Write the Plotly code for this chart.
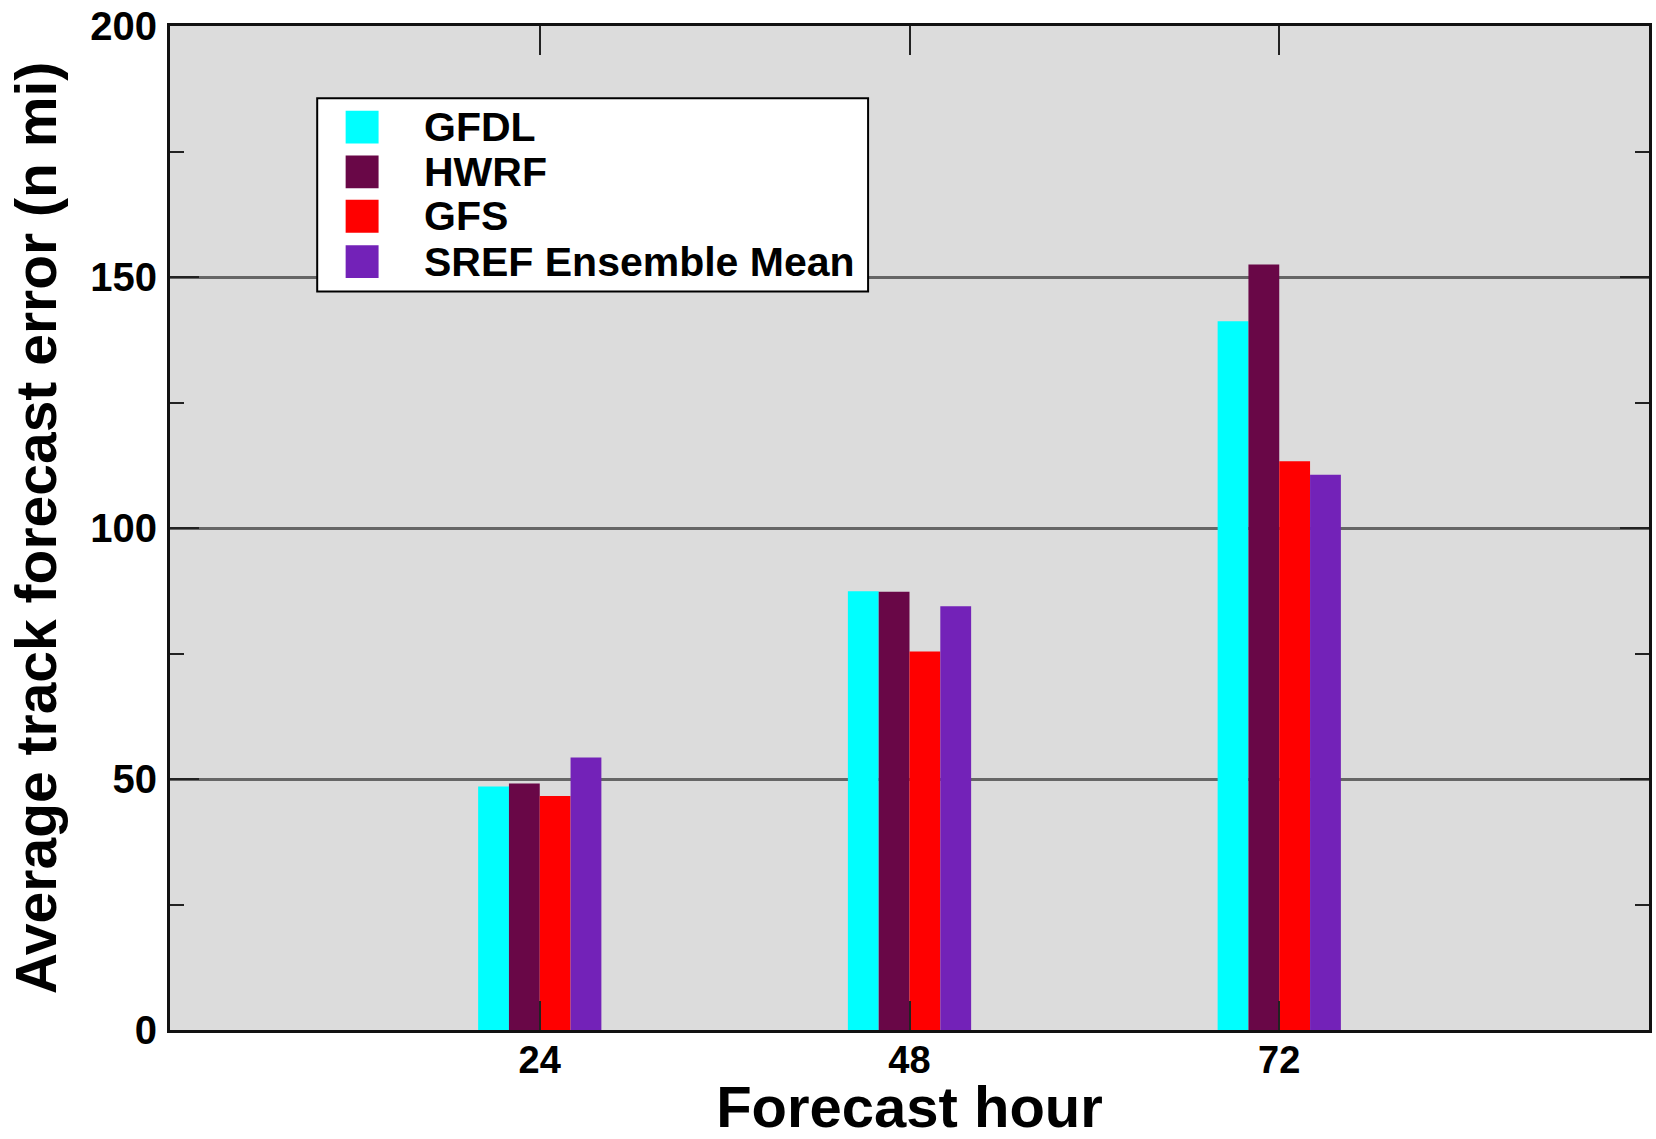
import plotly.graph_objects as go

# Forecast lead times (hours) and average track errors (n mi) per model
forecast_hours = [24, 48, 72]
models = ["GFDL", "HWRF", "GFS", "SREF Ensemble Mean"]
gfdl_err = [48.5, 87.4, 141.2]
hwrf_err = [49.1, 87.3, 152.5]
gfs_err = [46.6, 75.4, 113.3]
sref_err = [54.3, 84.4, 110.6]
model_colors = ["#00FFFF", "#690747", "#FF0000", "#7322B8"]

y_ticks = [0, 50, 100, 150, 200]

W, H = 1656, 1139
L, R, T, B = 170, 4, 22, 109
FONT = "Liberation Sans"

series = [gfdl_err, hwrf_err, gfs_err, sref_err]

fig = go.Figure()
for name, vals, col in zip(models, series, model_colors):
    fig.add_trace(go.Bar(x=forecast_hours, y=vals, name=name,
                         marker=dict(color=col, line=dict(width=0)),
                         showlegend=False))

axis_common = dict(
    showline=True, linecolor="#111111", linewidth=3, mirror="ticks",
    ticks="inside", ticklen=29, tickwidth=2, tickcolor="#222222",
    zeroline=False,
)

fig.update_layout(
    width=W, height=H,
    margin=dict(l=L, r=R, t=T, b=B, pad=0),
    paper_bgcolor="white", plot_bgcolor="#DCDCDC",
    barmode="group", bargap=2 / 3, bargroupgap=0,
    xaxis=dict(range=[0, 96], tickvals=forecast_hours,
               showgrid=False, ticklabelstandoff=-6,
               tickfont=dict(family=FONT, size=38, color="black", weight="bold"),
               title=dict(text="Forecast hour", standoff=13,
                          font=dict(family=FONT, size=58, color="black", weight="bold")),
               **axis_common),
    yaxis=dict(range=[0, 200], tickvals=y_ticks,
               showgrid=True, gridcolor="#666666", gridwidth=3,
               ticklabelstandoff=2,
               tickfont=dict(family=FONT, size=40, color="black", weight="bold"),
               minor=dict(ticks="inside", ticklen=14, tickwidth=2, tickcolor="#222222",
                          tick0=0, dtick=25, showgrid=False),
               title=dict(text="Average track forecast error (n mi)", standoff=16,
                          font=dict(family=FONT, size=57, color="black", weight="bold")),
               **axis_common),
)

# Legend panel, laid out in pixel units of the plotting area
pw, ph = W - L - R, H - T - B


def px_x(p):
    return (p - L) / pw


def px_y(p):
    return (T + ph - p) / ph


fig.add_shape(type="rect", xref="paper", yref="paper",
              x0=px_x(317.5), x1=px_x(869.5), y0=px_y(288.5), y1=px_y(94.5),
              fillcolor="white", line=dict(color="black", width=2), layer="above")

row_centers = [123.5, 168.5, 213.0, 258.5]
for name, col, yc in zip(models, model_colors, row_centers):
    fig.add_shape(type="rect", xref="paper", yref="paper",
                  x0=px_x(346), x1=px_x(379), y0=px_y(yc + 16.5), y1=px_y(yc - 16.5),
                  fillcolor=col, line=dict(width=0), layer="above")
    fig.add_annotation(xref="paper", yref="paper", x=px_x(423), y=px_y(yc),
                       xanchor="left", yanchor="middle", showarrow=False,
                       text=name, font=dict(family=FONT, size=41, color="black", weight="bold"))

fig.write_html("out.html")
